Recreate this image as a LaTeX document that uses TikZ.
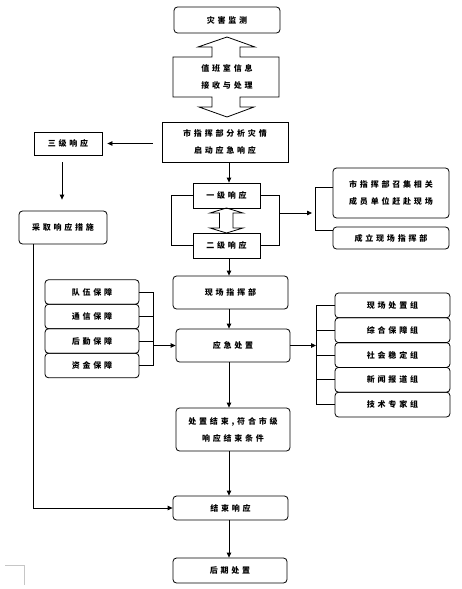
\documentclass[tikz,border=0pt]{standalone}
\usepackage{fontspec}
\newfontfamily\cjk{Noto Sans CJK SC}[LetterSpace=35]
\usetikzlibrary{arrows.meta}
\begin{document}
\begin{tikzpicture}[x=1bp,y=-1bp,
  font=\cjk\bfseries\fontsize{8bp}{17bp}\selectfont,
  ln/.style={line width=0.8bp},
  rbox/.style={draw, ln, rounded corners=3.5bp, inner sep=0pt, align=center},
  sbox/.style={draw, ln, inner sep=0pt, align=center},
  arr/.style={ln, -{Triangle[length=5bp,width=4.5bp]}}]
\fill[white] (0,0) rectangle (462,589);
\useasboundingbox (0,0) rectangle (462,589);
\coordinate (vx) at (229,0);
% top
\node[rbox, minimum width=106bp, minimum height=26bp] (jc) at (227,20) {灾害监测};
\draw[ln] (173,57) -- (212,57) -- (212,47) -- (198,47) -- (227,37) -- (255,47) -- (240,47) -- (240,57) -- (279,57) -- (279,97) -- (240,97) -- (240,107) -- (254,107) -- (227,117) -- (199,107) -- (212,107) -- (212,97) -- (173,97) -- cycle;
\node[align=center, inner sep=0pt] (zb) at (227,77) {值班室信息\\接收与处理};
\node[sbox, minimum width=126bp, minimum height=40bp] (fx) at (225,142) {市指挥部分析灾情\\启动应急响应};
\node[sbox, minimum width=68bp, minimum height=23bp] (s3) at (68,143.5) {三级响应};
\node[rbox, minimum width=88bp, minimum height=33bp] (cq) at (63,227.5) {采取响应措施};
\node[sbox, minimum width=67bp, minimum height=25bp] (y1) at (226.5,195.5) {一级响应};
\node[sbox, minimum width=67bp, minimum height=25bp] (y2) at (226.5,245.5) {二级响应};
\node[rbox, minimum width=116bp, minimum height=50bp] (zj) at (391,193) {市指挥部召集相关\\成员单位赶赴现场};
\node[rbox, minimum width=116bp, minimum height=22bp] (cl) at (391,238) {成立现场指挥部};
\node[rbox, minimum width=115bp, minimum height=33bp] (xc) at (230.5,292.5) {现场指挥部};
\node[rbox, minimum width=114bp, minimum height=33bp] (yj) at (233,345.5) {应急处置};
% guarantees
\node[rbox, minimum width=94bp, minimum height=24.5bp] (g1) at (92,292) {队伍保障};
\node[rbox, minimum width=94bp, minimum height=24.5bp] (g2) at (92,316.5) {通信保障};
\node[rbox, minimum width=94bp, minimum height=24.5bp] (g3) at (92,341) {后勤保障};
\node[rbox, minimum width=94bp, minimum height=24.5bp] (g4) at (92,365.5) {资金保障};
% groups
\node[rbox, minimum width=115bp, minimum height=24.8bp] (r1) at (392.5,305.4) {现场处置组};
\node[rbox, minimum width=115bp, minimum height=24.8bp] (r2) at (392.5,330.2) {综合保障组};
\node[rbox, minimum width=115bp, minimum height=24.8bp] (r3) at (392.5,355) {社会稳定组};
\node[rbox, minimum width=115bp, minimum height=24.8bp] (r4) at (392.5,379.8) {新闻报道组};
\node[rbox, minimum width=115bp, minimum height=24.8bp] (r5) at (392.5,404.6) {技术专家组};
\node[rbox, minimum width=114bp, minimum height=43bp] (cs) at (233,429.5) {处置结束,符合市级\\响应结束条件};
\node[rbox, minimum width=115bp, minimum height=24bp] (js) at (230.5,508) {结束响应};
\node[rbox, minimum width=114bp, minimum height=25bp] (hq) at (230,570.5) {后期处置};
% connectors
\draw[arr, shorten <=9bp, shorten >=5bp] (fx.west |- s3.east) -- (s3.east);
\draw[arr, shorten <=7bp, shorten >=11bp] (s3.south -| 62,0) -- (cq.north -| 62,0);
\draw[arr] (cq.south -| 33,0) |- (js.west);
\draw[arr] (fx.south -| vx) -- (y1.north -| vx);
\draw[ln] (y1.west) -- ++(-21,0) |- (y2.west);
\draw[ln] (y1.east) -- ++(19,0) |- (y2.east);
\draw[ln] (226.5,208) -- (243,213) -- (233,213) -- (233,228) -- (243,228) -- (226.5,233) -- (210,228) -- (219.5,228) -- (219.5,213) -- (210,213) -- cycle;
\coordinate (ya) at (279,213);
\coordinate (yb) at (315,213);
\draw[arr, shorten >=3bp] (ya) -- (yb);
\draw[ln] (zj.west |- 0,187) -| (315,230) -- (cl.west |- 0,230);
\draw[arr] (y2.south -| vx) -- (xc.north -| vx);
\draw[arr] (xc.south -| vx) -- (yj.north -| vx);
\draw[ln] (g1.east) -| (153,365.5) -- (g4.east);
\draw[ln] (g2.east) -- (g2.east -| 153,0);
\draw[ln] (g3.east) -- (g3.east -| 153,0);
\draw[arr] (yj.west -| 153,0) -- (yj.west);
\coordinate (rb) at (316,345.5);
\draw[arr] (yj.east) -- (rb);
\draw[ln] (r1.west) -| (316,404.6) -- (r5.west);
\draw[ln] (r2.west) -- (r2.west -| rb);
\draw[ln] (r3.west) -- (r3.west -| rb);
\draw[ln] (r4.west) -- (r4.west -| rb);
\draw[arr] (yj.south -| vx) -- (cs.north -| vx);
\draw[arr] (cs.south -| vx) -- (js.north -| vx);
\draw[arr] (js.south -| vx) -- (hq.north -| vx);
% corner mark
\draw[gray!45, line width=0.6bp] (5,565) -- (24,565) -- (24,585);
\end{tikzpicture}
\end{document}
